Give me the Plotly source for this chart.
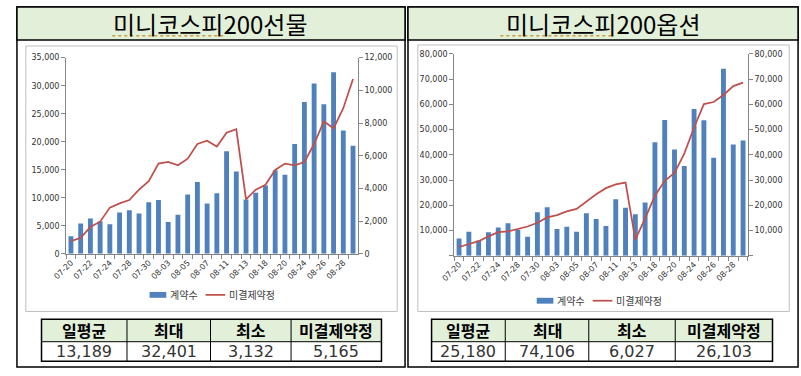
import plotly.graph_objects as go

W, H = 801, 376

# ---------------- data ----------------
dates = ["07-20", "07-21", "07-22", "07-23", "07-24", "07-27", "07-28", "07-29", "07-30", "07-31",
         "08-03", "08-04", "08-05", "08-06", "08-07", "08-10", "08-11", "08-12", "08-13", "08-17",
         "08-18", "08-19", "08-20", "08-21", "08-24", "08-25", "08-26", "08-27", "08-28", "08-31"]

fut_title = "미니코스피200선물"
opt_title = "미니코스피200옵션"
bar_name = "계약수"
line_name = "미결제약정"

fut_volume = [3132, 5400, 6300, 5800, 5300, 7400, 7800, 7200, 9200, 9600,
              5700, 7000, 10600, 12800, 9000, 10800, 18300, 14700, 9700, 10900,
              12200, 14900, 14100, 19600, 27100, 30400, 26700, 32401, 22000, 19300]
fut_oi = [780, 980, 1640, 1970, 2830, 3090, 3290, 3930, 4450, 5520,
          5620, 5420, 5820, 6720, 6920, 6560, 7410, 7620, 3330, 3930,
          4230, 5130, 5520, 5420, 5620, 6720, 8110, 7680, 8910, 10700]

opt_volume = [6900, 9500, 6027, 9300, 11200, 12900, 10300, 7600, 17300, 19200,
              10600, 11500, 9500, 16900, 14600, 11800, 22400, 19000, 16500, 21100,
              45000, 53800, 42100, 35600, 58100, 53700, 38800, 74106, 44100, 45700]
opt_oi = [3500, 4700, 5800, 7700, 9400, 9700, 10700, 11600, 13100, 15200,
          16100, 17600, 18600, 21600, 24400, 26800, 28300, 29000, 6400, 14800,
          23800, 29700, 32800, 40500, 50800, 60100, 60900, 63700, 67200, 68600]

table_headers = ["일평균", "최대", "최소", "미결제약정"]
fut_table = ["13,189", "32,401", "3,132", "5,165"]
opt_table = ["25,180", "74,106", "6,027", "26,103"]

# ---------------- helpers ----------------
def fx(p):
    return p / W

def fy(p):
    return 1 - p / H

BLUE = "#4f81bd"
RED = "#c0504d"
GREEN = "#e2efd9"
AX = "#868686"
TICKFONT = dict(family="DejaVu Sans", size=8, color="#333333")
KFONT = "Noto Sans CJK KR"

ticktext = [d if i % 2 == 0 else "" for i, d in enumerate(dates)]

fig = go.Figure()
fig.add_trace(go.Bar(x=dates, y=fut_volume, xaxis="x", yaxis="y", marker_color=BLUE,
                     marker_line_width=0, name=bar_name))
fig.add_trace(go.Scatter(x=dates, y=fut_oi, xaxis="x", yaxis="y2", mode="lines",
                         line=dict(color=RED, width=1.75), name=line_name))
fig.add_trace(go.Bar(x=dates, y=opt_volume, xaxis="x2", yaxis="y3", marker_color=BLUE,
                     marker_line_width=0, name=bar_name))
fig.add_trace(go.Scatter(x=dates, y=opt_oi, xaxis="x2", yaxis="y4", mode="lines",
                         line=dict(color=RED, width=1.75), name=line_name))

def xaxis_cfg(domain, anchor):
    return dict(domain=domain, anchor=anchor, type="category", categoryorder="array",
                categoryarray=dates, range=[-0.5, len(dates) - 0.5],
                tickmode="array", tickvals=dates, ticktext=ticktext, tickangle=-45,
                tickson="boundaries", ticks="outside", ticklen=4, tickcolor=AX,
                showline=True, linecolor=AX, linewidth=1, showgrid=False,
                tickfont=TICKFONT, fixedrange=True)

def yaxis_cfg(domain, anchor, rng, tickvals, ticktext_, side="left", overlaying=None):
    d = dict(anchor=anchor, range=rng, tickmode="array", tickvals=tickvals, ticktext=ticktext_,
             ticks="outside", ticklen=4, tickcolor=AX, showline=True, linecolor=AX,
             linewidth=1, showgrid=False, zeroline=False, side=side,
             tickfont=TICKFONT, fixedrange=True)
    if overlaying:
        d["overlaying"] = overlaying
    else:
        d["domain"] = domain
    return d

fut_l_ticks = list(range(0, 35001, 5000))
fut_r_ticks = list(range(0, 12001, 2000))
opt_ticks = list(range(0, 80001, 10000))
fmt = lambda v: f"{v:,}"

layout = dict(
    width=W, height=H, margin=dict(l=0, r=0, t=0, b=0),
    paper_bgcolor="white", plot_bgcolor="rgba(0,0,0,0)",
    showlegend=False, bargap=0.5,
    xaxis=xaxis_cfg([fx(53), fx(350)], "y"),
    yaxis=yaxis_cfg([fy(256), fy(55)], "x", [0, 35000], fut_l_ticks, [fmt(v) for v in fut_l_ticks]),
    yaxis2=yaxis_cfg(None, "x", [0, 12000], fut_r_ticks, [fmt(v) for v in fut_r_ticks],
                     side="right", overlaying="y"),
    xaxis2=xaxis_cfg([fx(448), fx(747)], "y3"),
    yaxis3=yaxis_cfg([fy(258), fy(51)], "x2", [0, 80000], opt_ticks,
                     ["" if v == 0 else fmt(v) for v in opt_ticks]),
    yaxis4=yaxis_cfg(None, "x2", [0, 80000], opt_ticks,
                     ["" if v == 0 else fmt(v) for v in opt_ticks], side="right", overlaying="y3"),
)
fig.update_layout(**layout)

shapes = []
annotations = []

def rect(x0, y0, x1, y1, line_color="black", lw=1, fill=None, layer="below"):
    s = dict(type="rect", xref="paper", yref="paper", x0=fx(x0), x1=fx(x1), y0=fy(y1), y1=fy(y0),
             line=dict(color=line_color, width=lw), layer=layer)
    if fill:
        s["fillcolor"] = fill
    if lw == 0:
        s["line"] = dict(width=0)
    shapes.append(s)

def line(x0, y0, x1, y1, color="black", lw=1, dash=None, layer="above"):
    l = dict(color=color, width=lw)
    if dash:
        l["dash"] = dash
    shapes.append(dict(type="line", xref="paper", yref="paper", x0=fx(x0), x1=fx(x1),
                       y0=fy(y0), y1=fy(y1), line=l, layer=layer))

def text(x, y, s, size, color="#000000", xanchor="center", weight="normal", family=KFONT):
    annotations.append(dict(xref="paper", yref="paper", x=fx(x), y=fy(y), text=s,
                            showarrow=False, xanchor=xanchor, yanchor="middle",
                            font=dict(family=family, size=size, color=color, weight=weight)))

def panel(px0, px1, title, chart_box, legend_y, legend_x, table_x, table_vals, ul):
    # outer panel + title band
    rect(px0, 3, px1, 372, "black", 1.5)
    rect(px0, 3, px1, 37, "black", 1.5, fill=GREEN)
    text((px0 + px1) / 2, 20, title, 24)
    line(ul[0], 32.5, ul[1], 32.5, color="#c8a040", lw=1.5, dash="dot")
    # chart box
    cx0, cy0, cx1, cy1 = chart_box
    rect(cx0, cy0, cx1, cy1, "#bfbfbf", 1, fill="white")
    # legend
    lx = legend_x
    rect(lx, legend_y - 3, lx + 17, legend_y + 3, lw=0, fill=BLUE, layer="above")
    text(lx + 19, legend_y, bar_name, 10, "#404040", xanchor="left")
    line(lx + 57, legend_y, lx + 77, legend_y, color=RED, lw=1.75)
    text(lx + 79, legend_y, line_name, 10, "#404040", xanchor="left")
    # table
    xs = table_x
    ty0, tmid, ty1 = 323, 346, 366
    rect(xs[0], ty0, xs[-1], tmid, lw=0, fill=GREEN)
    rect(xs[0], ty0, xs[-1], ty1, "black", 1.5, layer="above")
    line(xs[0], tmid, xs[-1], tmid, lw=1)
    for xd in xs[1:-1]:
        line(xd, ty0, xd, ty1, lw=1)
    for i in range(4):
        cxm = (xs[i] + xs[i + 1]) / 2
        text(cxm, (ty0 + tmid) / 2, table_headers[i], 16, weight="bold")
        text(cxm, (tmid + ty1) / 2 + 0.5, table_vals[i], 16, "#333333", family="DejaVu Sans")

panel(3, 398, fut_title, (12, 43, 390, 315), 298, 138, [28, 115, 200, 282, 374], fut_table, (100, 214))
panel(401, 798, opt_title, (411, 42, 789, 315), 304, 532, [425, 500, 585, 673, 772], opt_table, (495, 610))

fig.update_layout(shapes=shapes, annotations=annotations)
fig.write_html("out.html",
               config={"displayModeBar": False},
               post_script="document.body.style.margin='0';document.body.style.overflow='hidden';")
